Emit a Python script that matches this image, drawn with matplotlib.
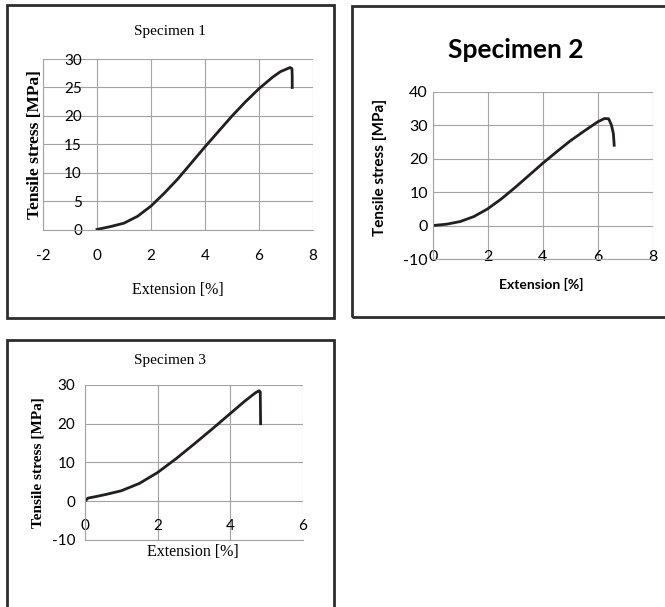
import matplotlib
matplotlib.use("Agg")
import matplotlib.pyplot as plt
from matplotlib.patches import Rectangle

plt.rcParams['axes.unicode_minus'] = False

# data
spec1_ext = [0, 0.5, 1.0, 1.5, 2.0, 2.5, 3.0, 3.5, 4.0, 4.5, 5.0, 5.5, 6.0, 6.5, 6.8, 7.0, 7.15, 7.22, 7.23, 7.23]
spec1_stress = [0.1, 0.6, 1.2, 2.4, 4.2, 6.5, 9.0, 11.8, 14.6, 17.3, 20.0, 22.5, 24.8, 26.8, 27.8, 28.2, 28.5, 28.3, 27.0, 25.0]

spec2_ext = [0, 0.5, 1.0, 1.5, 2.0, 2.5, 3.0, 3.5, 4.0, 4.5, 5.0, 5.5, 6.0, 6.25, 6.4, 6.5, 6.57, 6.6]
spec2_stress = [0, 0.4, 1.2, 2.7, 5.0, 8.0, 11.4, 15.0, 18.6, 22.0, 25.3, 28.2, 31.0, 32.0, 31.9, 30.0, 27.5, 24.0]

spec3_ext = [0, 0.08, 0.3, 0.6, 1.0, 1.5, 2.0, 2.5, 3.0, 3.5, 4.0, 4.4, 4.7, 4.8, 4.83, 4.84]
spec3_stress = [0, 0.8, 1.2, 1.8, 2.7, 4.6, 7.4, 10.9, 14.7, 18.6, 22.6, 25.8, 28.0, 28.5, 28.2, 20.0]

x1_ticks = [-2, 0, 2, 4, 6, 8]
y1_ticks = [0, 5, 10, 15, 20, 25, 30]
x2_ticks = [0, 2, 4, 6, 8]
y2_ticks = [-10, 0, 10, 20, 30, 40]
x3_ticks = [0, 2, 4, 6]
y3_ticks = [-10, 0, 10, 20, 30]

LINE = '#231f20'
GRID = '#a3a3a3'
SERIF = 'Liberation Serif'
SANS = 'Lato'

fig = plt.figure(figsize=(6.65, 6.07), dpi=100)

# boxes around each chart (figure coords)
for x0, y0, w, h in [(0.0105, 0.4761, 0.4917, 0.5157),
                     (0.5293, 0.4778, 0.55, 0.5124),
                     (0.0105, -0.05, 0.4917, 0.4899)]:
    fig.add_artist(Rectangle((x0, y0), w, h, transform=fig.transFigure,
                             fill=False, edgecolor='#2d2d2d', linewidth=2))


def style(ax, xt, yt, xlim, ylim):
    ax.set_xlim(*xlim)
    ax.set_ylim(*ylim)
    ax.set_xticks(xt)
    ax.set_yticks(yt)
    ax.grid(True, color=GRID, linewidth=0.8)
    ax.set_axisbelow(True)
    for s in ax.spines.values():
        s.set_visible(False)
    ax.spines['left'].set_visible(True)
    ax.spines['left'].set_color(GRID)
    ax.spines['bottom'].set_visible(True)
    ax.spines['bottom'].set_color(GRID)
    ax.tick_params(length=0)


# Specimen 1
ax1 = fig.add_axes([0.0647, 0.6211, 0.406, 0.2817])
style(ax1, x1_ticks, y1_ticks, (-2, 8), (0, 30))
ax1.plot(spec1_ext, spec1_stress, color=LINE, lw=2)
ax1.tick_params(axis='y', pad=-28, labelsize=11)
ax1.tick_params(axis='x', pad=14, labelsize=11)
for lab in ax1.get_xticklabels() + ax1.get_yticklabels():
    lab.set_family(SANS)
ax1.text(0.47, 1.158, 'Specimen 1', transform=ax1.transAxes, ha='center', va='center',
         family=SERIF, fontsize=11)
ax1.set_ylabel('Tensile stress [MPa]', family=SERIF, fontsize=12.5, fontweight='bold', va='center')
ax1.yaxis.set_label_coords(-0.03, 0.497)
ax1.set_xlabel('Extension [%]', family=SERIF, fontsize=11.5, va='center')
ax1.xaxis.set_label_coords(0.5, -0.351)

# Specimen 2
ax2 = fig.add_axes([0.6507, 0.5733, 0.3308, 0.2756])
style(ax2, x2_ticks, y2_ticks, (0, 8), (-10, 40))
ax2.plot(spec2_ext, spec2_stress, color=LINE, lw=2)
ax2.tick_params(axis='y', pad=3.4, labelsize=11.5)
ax2.tick_params(axis='x', pad=-6.7, labelsize=11.5)
for lab in ax2.get_xticklabels() + ax2.get_yticklabels():
    lab.set_family(SANS)
ax2.text(0.379, 1.249, 'Specimen 2', transform=ax2.transAxes, ha='center', va='center',
         family=SANS, fontsize=19, fontweight='bold')
ax2.set_ylabel('Tensile stress [MPa]', family=SANS, fontsize=11, fontweight='bold', va='center')
ax2.yaxis.set_label_coords(-0.24, 0.547)
ax2.set_xlabel('Extension [%]', family=SANS, fontsize=10, fontweight='bold', va='center')
ax2.xaxis.set_label_coords(0.492, -0.155)

# Specimen 3
ax3 = fig.add_axes([0.1278, 0.1104, 0.3274, 0.2554])
style(ax3, x3_ticks, y3_ticks, (0, 6), (-10, 30))
ax3.plot(spec3_ext, spec3_stress, color=LINE, lw=2)
ax3.tick_params(axis='y', pad=7, labelsize=11)
ax3.tick_params(axis='x', pad=-15, labelsize=11)
for lab in ax3.get_xticklabels() + ax3.get_yticklabels():
    lab.set_family(SANS)
ax3.text(0.39, 1.155, 'Specimen 3', transform=ax3.transAxes, ha='center', va='center',
         family=SERIF, fontsize=11)
ax3.set_ylabel('Tensile stress [MPa]', family=SERIF, fontsize=11, fontweight='bold', va='center')
ax3.yaxis.set_label_coords(-0.216, 0.5)
ax3.set_xlabel('Extension [%]', family=SERIF, fontsize=11.5, va='center')
ax3.xaxis.set_label_coords(0.496, -0.077)

fig.savefig('out.png', dpi=100)
